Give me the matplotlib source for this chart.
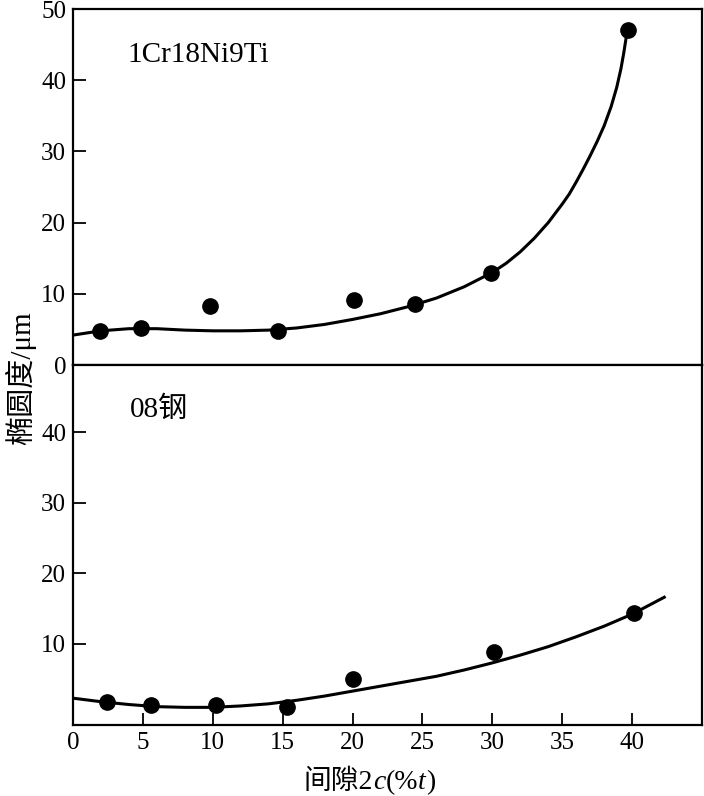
import matplotlib
matplotlib.use('Agg')
import matplotlib.pyplot as plt
from matplotlib.text import Annotation

plt.rcParams['font.family'] = ['Liberation Serif', 'Noto Sans CJK SC', 'DejaVu Sans']

# top panel: 1Cr18Ni9Ti
x_top = [1.9, 4.9, 9.8, 14.7, 20.1, 24.5, 29.9, 39.7]
y_top = [4.8, 5.2, 8.3, 4.8, 9.1, 8.6, 12.9, 47.0]
cx_top = [0, 2, 4, 6, 8, 10, 12, 14, 16, 18, 20, 22, 24, 26, 28, 30, 31, 32, 33, 34,
          35, 35.5, 36, 36.5, 37, 37.5, 38, 38.5, 38.9, 39.2, 39.4, 39.6]
cy_top = [4.2, 4.8, 5.1, 5.1, 4.9, 4.8, 4.8, 4.9, 5.2, 5.7, 6.4, 7.2, 8.2, 9.4, 11.0, 13.0, 14.3, 15.9, 17.8, 20.0,
          22.6, 24.0, 25.7, 27.5, 29.4, 31.4, 33.6, 36.3, 39.0, 41.6, 43.8, 46.3]

# bottom panel: 08 steel
x_bot = [2.4, 5.6, 10.2, 15.3, 20.0, 30.1, 40.1]
y_bot = [1.7, 1.3, 1.3, 1.1, 5.0, 8.9, 14.4]
cx_bot = [0, 2, 4, 6, 8, 10, 12, 14, 16, 18, 20, 22, 24, 26, 28, 30, 32, 34, 36, 38, 40, 42.3]
cy_bot = [2.3, 1.8, 1.4, 1.1, 1.0, 1.0, 1.2, 1.5, 2.0, 2.6, 3.3, 4.0, 4.7, 5.4, 6.3, 7.3, 8.4, 9.6, 11.0, 12.5, 14.2, 16.6]

top_ticks = [0, 10, 20, 30, 40, 50]
bot_ticks = [10, 20, 30, 40]
x_ticks = [0, 5, 10, 15, 20, 25, 30, 35, 40]

fig = plt.figure(figsize=(7.04, 7.96), dpi=100)
L, R = 73 / 704, 702 / 704
t_top, t_mid, t_bot = 1 - 9 / 796, 1 - 365 / 796, 1 - 725 / 796
ax1 = fig.add_axes([L, t_mid, R - L, t_top - t_mid])
ax2 = fig.add_axes([L, t_bot, R - L, t_mid - t_bot])

fs = 18
for ax in (ax1, ax2):
    for s in ax.spines.values():
        s.set_linewidth(1.6)
    ax.set_xlim(0, 45)
    ax.tick_params(direction='in', length=9, width=1.3, labelsize=fs, pad=5,
                   top=False, right=False)

ax1.plot(cx_top, cy_top, color='black', lw=2.2, solid_joinstyle='round')
ax1.plot(x_top, y_top, 'o', color='black', ms=11)
ax1.set_ylim(0, 50)
ax1.set_yticks(top_ticks)
ax1.tick_params(bottom=False, labelbottom=False)
ax1.text(3.9, 43.5, '1Cr18Ni9Ti', fontsize=21, va='center')

ax2.plot(cx_bot, cy_bot, color='black', lw=2.2, solid_joinstyle='round')
ax2.plot(x_bot, y_bot, 'o', color='black', ms=11)
ax2.set_ylim(-1.5, 49.5)
ax2.set_yticks(bot_ticks)
ax2.set_xticks(x_ticks)
ax2.text(4.1, 43.2, '08钢', fontsize=21, va='center')

fig.text(0.03, 1 - 378 / 796, '椭圆度/μm', rotation=90, fontsize=21,
         ha='center', va='center')

# x label, italic c and t
parts = [('间隙2', 'normal'), ('c', 'italic'), ('(%', 'normal'), ('t', 'italic'), (')', 'normal')]
prev = fig.text(304 / 704, 1 - 789 / 796, parts[0][0], fontsize=20, ha='left', va='baseline')
for txt, style in parts[1:]:
    prev = fig.add_artist(Annotation(txt, xy=(1, 0), xycoords=prev, fontsize=20,
                                     style=style, ha='left', va='bottom'))

fig.savefig('out.png', dpi=100)
